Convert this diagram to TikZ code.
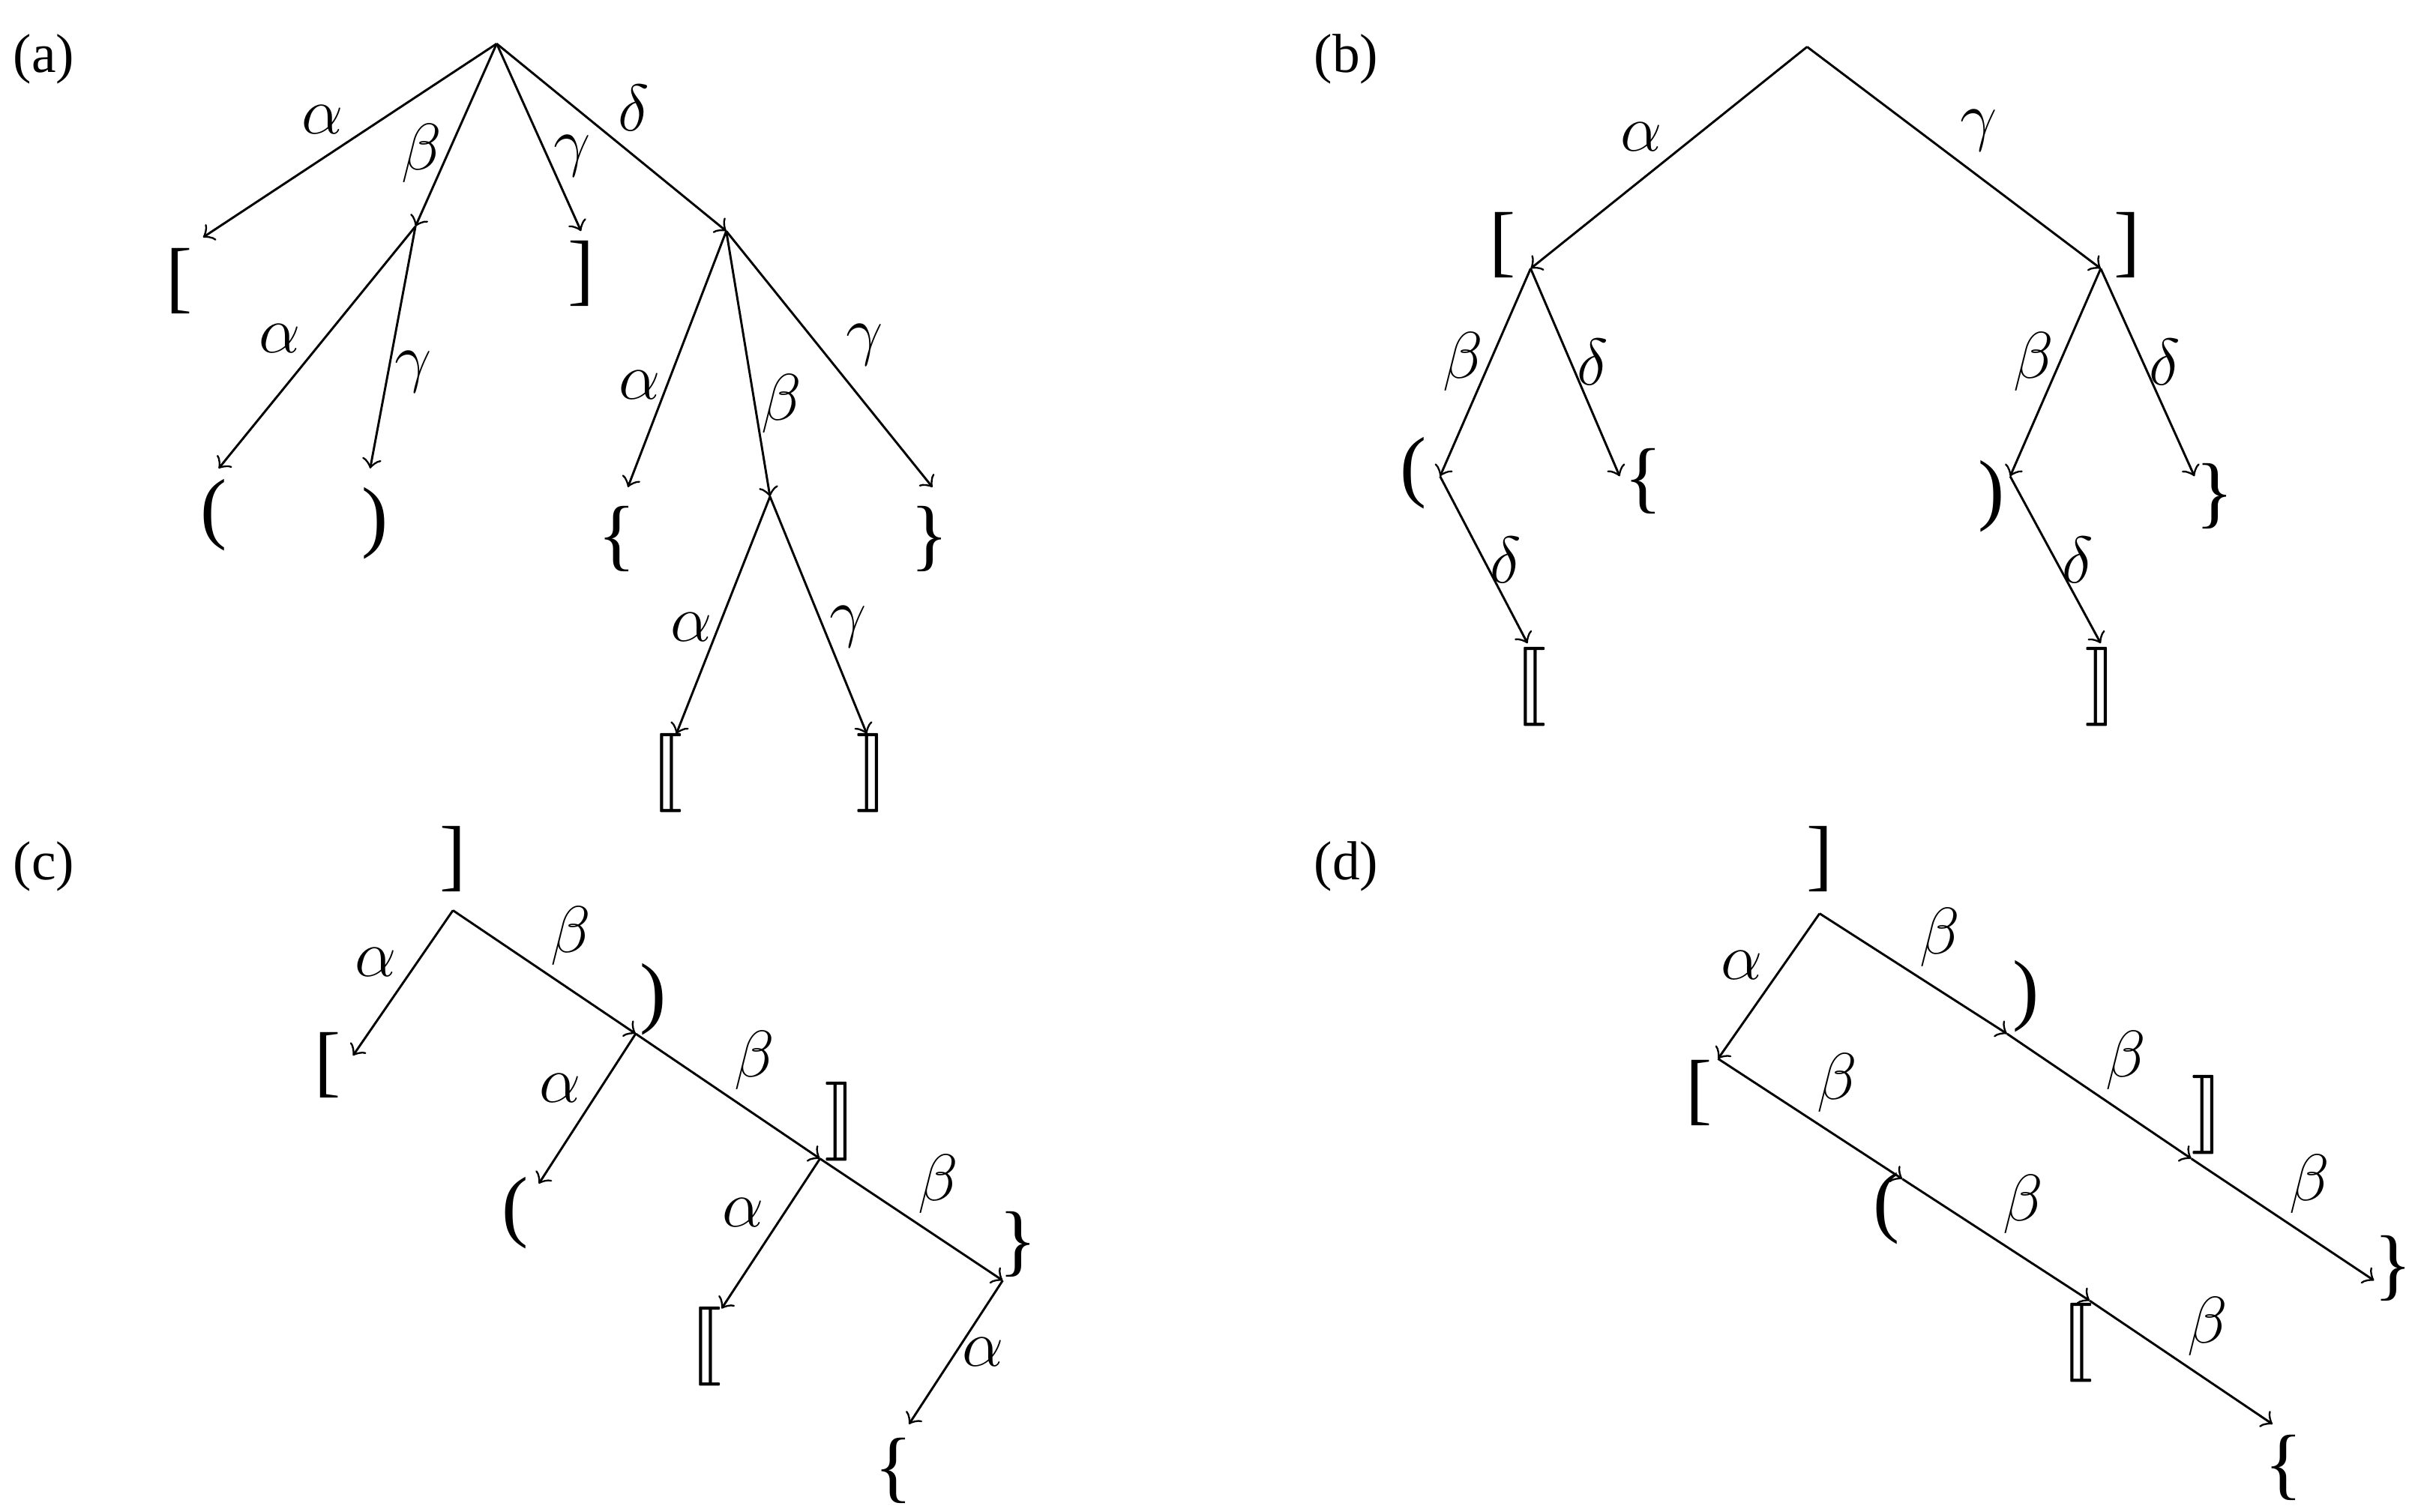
\documentclass[tikz,border=0pt]{standalone}
\usepackage{fontspec}
\setmainfont{Liberation Serif}
\usepackage{amsmath}
\usepackage{stmaryrd}
\usetikzlibrary{positioning}
\begin{document}
\begin{tikzpicture}[
		x=0.01cm, y=-0.01cm,
		->, >=to, thin,
		lab/.style={font=\large, inner sep=1pt},
		br/.style={font=\Large, inner sep=0pt}
		]
		\useasboundingbox (0,0) rectangle (1552,968);
		
		% (a)
		\node at (28,38) {(a)};
		\coordinate (aR) at (318,28);
		\coordinate (aL) at (130,152);
		\coordinate (aB) at (266,145);
		\coordinate (aG) at (372,148);
		\coordinate (aD) at (465,148);
		\coordinate (aBA) at (140,300);
		\coordinate (aBG) at (237,300);
		\coordinate (aDA) at (402,312);
		\coordinate (aDB) at (493,318);
		\coordinate (aDG) at (597,312);
		\coordinate (aDBA) at (433,470);
		\coordinate (aDBG) at (555,470);
		\node[br] at (115,180) {[};
		\node[br] at (372,175) {]};
		\node[br] at (137,330) {(};
		\node[br] at (240,335) {)};
		\node[br] at (395,345) {\{};
		\node[br] at (595,345) {\}};
		\node[br] at (427,495) {$\llbracket$};
		\node[br] at (558,495) {$\rrbracket$};
		\path (aR) edge node[lab, above left] {$\alpha$} (aL);
		\path (aR) edge node[lab, pos=0.6, left] {$\beta$} (aB);
		\path (aR) edge node[lab, pos=0.6, right] {$\gamma$} (aG);
		\path (aR) edge node[lab, above right] {$\delta$} (aD);
		\path (aB) edge node[lab, pos=0.55, above left] {$\alpha$} (aBA);
		\path (aB) edge node[lab, pos=0.6, right] {$\gamma$} (aBG);
		\path (aD) edge node[lab, pos=0.6, left] {$\alpha$} (aDA);
		\path (aD) edge node[lab, pos=0.65, right] {$\beta$} (aDB);
		\path (aD) edge node[lab, pos=0.55, above right] {$\gamma$} (aDG);
		\path (aDB) edge node[lab, pos=0.55, left] {$\alpha$} (aDBA);
		\path (aDB) edge node[lab, pos=0.55, right] {$\gamma$} (aDBG);
		
		% (b)
		\node at (862,38) {(b)};
		\coordinate (bR) at (1157,30);
		\coordinate (bL) at (980,172);
		\coordinate (bG) at (1345,172);
		\coordinate (bLB) at (922,305);
		\coordinate (bLD) at (1037,305);
		\coordinate (bLBD) at (978,412);
		\coordinate (bGB) at (1287,305);
		\coordinate (bGD) at (1405,305);
		\coordinate (bGBD) at (1345,412);
		\node[br] at (962,157) {[};
		\node[br] at (1362,157) {]};
		\node[br] at (905,303) {(};
		\node[br] at (1052,308) {\{};
		\node[br] at (1275,318) {)};
		\node[br] at (1418,318) {\}};
		\node[br] at (980,440) {$\llbracket$};
		\node[br] at (1345,440) {$\rrbracket$};
		\path (bR) edge node[lab, pos=0.5, above left] {$\alpha$} (bL);
		\path (bR) edge node[lab, pos=0.5, above right] {$\gamma$} (bG);
		\path (bL) edge node[lab, pos=0.45, left] {$\beta$} (bLB);
		\path (bL) edge node[lab, pos=0.45, right] {$\delta$} (bLD);
		\path (bLB) edge node[lab, pos=0.5, right] {$\delta$} (bLBD);
		\path (bG) edge node[lab, pos=0.45, left] {$\beta$} (bGB);
		\path (bG) edge node[lab, pos=0.45, right] {$\delta$} (bGD);
		\path (bGB) edge node[lab, pos=0.5, right] {$\delta$} (bGBD);
		
		% (c)
		\node at (28,555) {(c)};
		\node[br] at (290,550) {]};
		\coordinate (cR) at (290,583);
		\coordinate (cA) at (226,676);
		\coordinate (cB) at (407,662);
		\coordinate (cBA) at (345,758);
		\coordinate (cBB) at (525,742);
		\coordinate (cBBA) at (462,838);
		\coordinate (cBBB) at (642,820);
		\coordinate (cBBBA) at (582,912);
		\node[br] at (210,682) {[};
		\node[br] at (418,640) {)};
		\node[br] at (330,777) {(};
		\node[br] at (538,718) {$\rrbracket$};
		\node[br] at (452,862) {$\llbracket$};
		\node[br] at (652,797) {\}};
		\node[br] at (572,942) {\{};
		\path (cR) edge node[lab, pos=0.5, above left] {$\alpha$} (cA);
		\path (cR) edge node[lab, pos=0.5, above right] {$\beta$} (cB);
		\path (cB) edge node[lab, pos=0.5, above left] {$\alpha$} (cBA);
		\path (cB) edge node[lab, pos=0.5, above right] {$\beta$} (cBB);
		\path (cBB) edge node[lab, pos=0.5, above left] {$\alpha$} (cBBA);
		\path (cBB) edge node[lab, pos=0.5, above right] {$\beta$} (cBBB);
		\path (cBBB) edge node[lab, pos=0.5, right] {$\alpha$} (cBBBA);
		
		% (d)
		\node at (862,555) {(d)};
		\node[br] at (1165,550) {]};
		\coordinate (dR) at (1165,585);
		\coordinate (dA) at (1100,678);
		\coordinate (dB) at (1285,662);
		\coordinate (dBB) at (1403,742);
		\coordinate (dBBB) at (1520,820);
		\coordinate (dAB) at (1218,755);
		\coordinate (dABB) at (1338,833);
		\coordinate (dABBB) at (1455,912);
		\node[br] at (1088,700) {[};
		\node[br] at (1297,638) {)};
		\node[br] at (1413,714) {$\rrbracket$};
		\node[br] at (1532,812) {\}};
		\node[br] at (1208,774) {(};
		\node[br] at (1330,860) {$\llbracket$};
		\node[br] at (1462,940) {\{};
		\path (dR) edge node[lab, pos=0.5, above left] {$\alpha$} (dA);
		\path (dR) edge node[lab, pos=0.5, above right] {$\beta$} (dB);
		\path (dB) edge node[lab, pos=0.5, above right] {$\beta$} (dBB);
		\path (dBB) edge node[lab, pos=0.5, above right] {$\beta$} (dBBB);
		\path (dA) edge node[lab, pos=0.5, above right] {$\beta$} (dAB);
		\path (dAB) edge node[lab, pos=0.5, above right] {$\beta$} (dABB);
		\path (dABB) edge node[lab, pos=0.5, above right] {$\beta$} (dABBB);
	\end{tikzpicture}
\end{document}
